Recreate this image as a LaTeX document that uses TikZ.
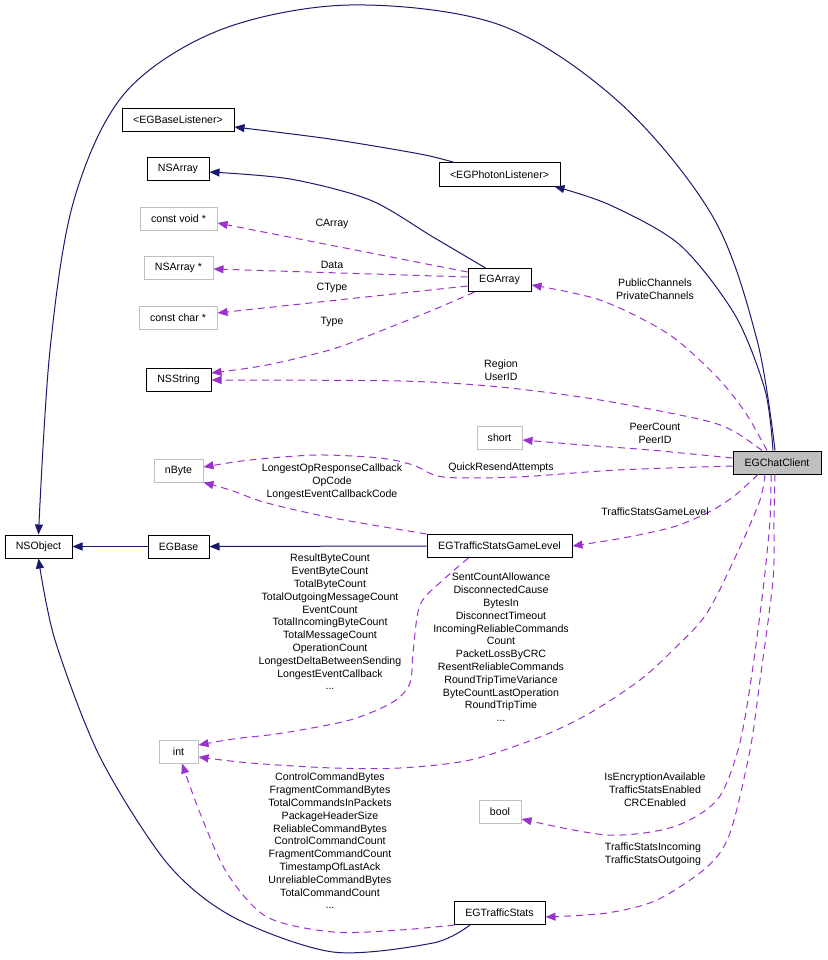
\documentclass[tikz,border=0pt]{standalone}
\usepackage{fontspec}
\setmainfont{Liberation Sans}
\usetikzlibrary{arrows.meta}
\definecolor{navy}{RGB}{25,25,112}
\definecolor{orchid}{RGB}{154,50,205}
\definecolor{boxgray}{RGB}{191,191,191}
\begin{document}
\begin{tikzpicture}[x=1pt,y=-1pt,
  every node/.style={font=\fontsize{10.6}{12.8}\selectfont},
  cls/.style={draw=black, line width=1pt, minimum height=23pt, inner sep=0pt},
  ext/.style={draw=boxgray, line width=1pt, minimum height=23pt, inner sep=0pt},
  lbl/.style={align=center, inner sep=0pt},
  inhedge/.style={draw=navy, line width=1pt, -{Triangle[length=10pt,width=8pt]}},
  usedge/.style={draw=orchid, line width=1pt, dash pattern=on 7pt off 5pt, -{Triangle[length=10pt,width=8pt]}},
]
\useasboundingbox (0,0) rectangle (827,960);

% nodes
\node[cls, minimum width=112pt] (baselis) at (178,120) {<EGBaseListener>};
\node[cls, minimum width=62pt] (nsarray) at (178,169) {NSArray};
\node[cls, minimum width=121pt] (photon) at (499.5,174.5) {<EGPhotonListener>};
\node[ext, minimum width=77pt] (cvoid) at (178.5,218.5) {const void *};
\node[ext, minimum width=69pt] (nsarrayp) at (178.5,267.5) {NSArray *};
\node[ext, minimum width=78pt] (cchar) at (178,317.5) {const char *};
\node[cls, minimum width=65pt] (nsstring) at (178.5,380) {NSString};
\node[cls, minimum width=63pt] (egarray) at (499.5,280) {EGArray};
\node[ext, minimum width=45pt] (short) at (499.5,437.5) {short};
\node[cls, fill=boxgray, minimum width=88pt] (chat) at (777,462.5) {EGChatClient};
\node[ext, minimum width=49pt] (nbyte) at (178.5,470.5) {nByte};
\node[cls, minimum width=67pt] (nsobject) at (38.5,546.5) {NSObject};
\node[cls, minimum width=61pt] (egbase) at (178.5,546.5) {EGBase};
\node[cls, minimum width=145pt] (tsgl) at (499.5,546) {EGTrafficStatsGameLevel};
\node[ext, minimum width=39pt] (int) at (178.5,751.5) {int};
\node[ext, minimum width=42pt] (bool) at (500,811.5) {bool};
\node[cls, minimum width=91pt] (ts) at (499.5,913) {EGTrafficStats};

% inheritance edges
\draw[inhedge] plot[smooth,tension=0.55] coordinates {([xshift=-2pt]chat.north) (757,340) (713,217) (620,103) (500,25) (350,5) (220,30) (125,93) (74,200) (50,350) (nsobject.north)};
\draw[inhedge] plot[smooth] coordinates {([xshift=-4pt]chat.north) (765,390) (735,315) (680,245) (610,205) ([xshift=-6pt]photon.south east)};
\draw[inhedge] plot[smooth] coordinates {([xshift=16pt]photon.north west) (420,154) (330,139) ([yshift=-7pt]baselis.east)};
\draw[inhedge] plot[smooth] coordinates {([xshift=-14pt]egarray.north) (433,237) (370,200) (290,179) ([yshift=-3pt]nsarray.east)};
\draw[inhedge] (tsgl.west) -- (egbase.east);
\draw[inhedge] (egbase.west) -- (nsobject.east);
\draw[inhedge] plot[smooth] coordinates {([xshift=-29.5pt]ts.south) (433,943) (333,952) (233,917) (167,863) (100,757) (55,640) (nsobject.south)};

% usage edges
\draw[usedge] ([yshift=8pt]egarray.west) -- ([yshift=-4.5pt]cvoid.east);
\draw[usedge] ([yshift=3pt]egarray.west) -- ([yshift=-1.5pt]nsarrayp.east);
\draw[usedge] ([yshift=-6pt]egarray.west) -- ([yshift=4.5pt]cchar.east);
\draw[usedge] plot[smooth] coordinates {([xshift=7pt]egarray.south west) (433,310) (383,330) (333,349) (267,365) ([yshift=7pt]nsstring.east)};
\draw[usedge] plot[smooth] coordinates {([xshift=-10pt]chat.north) (745,412) (715,375) (667,333) (600,300) ([yshift=-5pt]egarray.east)};
\draw[usedge] plot[smooth] coordinates {([xshift=-15pt]chat.north) (735,432) (703,420) (600,400) (500,387) (400,381) (nsstring.east)};
\draw[usedge] plot[smooth] coordinates {([yshift=4.5pt]chat.west) (650,450) (583,445) ([yshift=-2.5pt]short.east)};
\draw[usedge] plot[smooth] coordinates {([yshift=-3.5pt]chat.west) (617,470) (517,477) (443,477) (413,465) (380,458) (317,455) (250,460) ([yshift=3.5pt]nbyte.east)};
\draw[usedge] plot[smooth] coordinates {(tsgl.north west) (333,518) (267,503) (230,490) (nbyte.south east)};
\draw[usedge] plot[smooth] coordinates {([xshift=-19pt]chat.south) (733,497) (707,513) (673,527) (623,538) (tsgl.east)};
\draw[usedge] plot[smooth] coordinates {([xshift=-31pt]tsgl.south) (443,580) (420,605) (413,653) (410,683) (393,702) (350,720) (283,733) (233,739) ([yshift=6.5pt]int.east)};
\draw[usedge] plot[smooth] coordinates {([xshift=-12pt]chat.south) (760,500) (740,547) (707,613) (673,650) (640,680) (590,713) (540,737) (470,760) (400,768) (333,768) (250,763) ([yshift=-5.5pt]int.east)};
\draw[usedge] plot[smooth] coordinates {([xshift=-6pt]chat.south) (770,520) (763,590) (750,687) (738,750) (717,800) (673,827) (607,835) ([yshift=-7.5pt]bool.east)};
\draw[usedge] plot[smooth] coordinates {([xshift=-2pt]chat.south) (774,520) (773,580) (760,680) (750,750) (730,833) (707,867) (657,900) (607,913) ([yshift=-4pt]ts.east)};
\draw[usedge] plot[smooth] coordinates {([xshift=1pt]ts.south west) (400,930) (333,932) (267,917) (227,873) (200,813) ([xshift=3.5pt]int.south)};

% labels
\node[lbl] (lcarray) at (332,224) {CArray};
\node[lbl] (ldata) at (332,265) {Data};
\node[lbl] (lctype) at (332,288) {CType};
\node[lbl] (ltype) at (332,322) {Type};
\node[lbl] (lregion) at (501,370.5) {Region\\UserID};
\node[lbl] (lchannels) at (655,289.5) {PublicChannels\\PrivateChannels};
\node[lbl] (lpeer) at (655,433.5) {PeerCount\\PeerID};
\node[lbl] (lquick) at (501,468) {QuickResendAttempts};
\node[lbl] (lnbyte) at (332,481.5) {LongestOpResponseCallback\\OpCode\\LongestEventCallbackCode};
\node[lbl] (ltsgl) at (655,512) {TrafficStatsGameLevel};
\node[lbl] (lintgl) at (330,622) {ResultByteCount\\EventByteCount\\TotalByteCount\\TotalOutgoingMessageCount\\EventCount\\TotalIncomingByteCount\\TotalMessageCount\\OperationCount\\LongestDeltaBetweenSending\\LongestEventCallback\\...};
\node[lbl] (lintchat) at (501,647.5) {SentCountAllowance\\DisconnectedCause\\BytesIn\\DisconnectTimeout\\IncomingReliableCommands\\Count\\PacketLossByCRC\\ResentReliableCommands\\RoundTripTimeVariance\\ByteCountLastOperation\\RoundTripTime\\...};
\node[lbl] (lbool) at (655,789.5) {IsEncryptionAvailable\\TrafficStatsEnabled\\CRCEnabled};
\node[lbl] (lts) at (653,854.5) {TrafficStatsIncoming\\TrafficStatsOutgoing};
\node[lbl] (lintts) at (330,841) {ControlCommandBytes\\FragmentCommandBytes\\TotalCommandsInPackets\\PackageHeaderSize\\ReliableCommandBytes\\ControlCommandCount\\FragmentCommandCount\\TimestampOfLastAck\\UnreliableCommandBytes\\TotalCommandCount\\...};
\end{tikzpicture}
\end{document}
